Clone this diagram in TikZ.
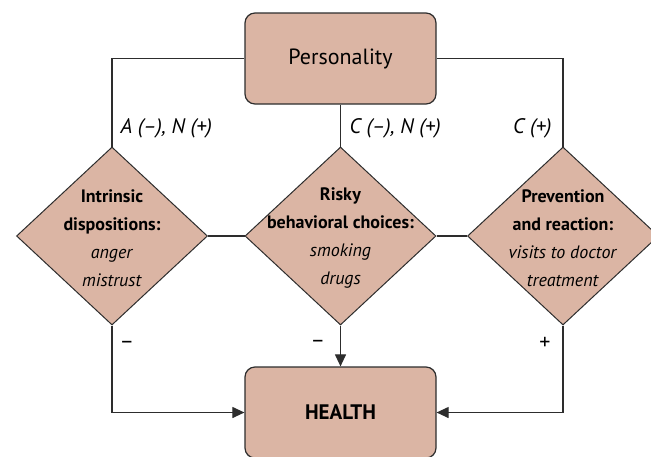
\documentclass[tikz,border=0pt]{standalone}
\usepackage{fontspec}
\setmainfont{PT Sans}
\usetikzlibrary{positioning,arrows.meta,shapes.geometric}
\definecolor{boxfill}{RGB}{219,181,164}
\definecolor{linegray}{RGB}{45,45,45}

\begin{document}
\begin{tikzpicture}[x=1pt,y=-1pt,
  box/.style={draw=linegray,line width=1.2pt,fill=boxfill,rounded corners=10pt,minimum width=191pt,minimum height=91pt,inner sep=0pt},
  dia/.style={draw=linegray,line width=1pt,fill=boxfill,diamond,minimum width=191pt,minimum height=178pt,inner sep=0pt},
  con/.style={draw=linegray,line width=1.1pt},
  arr/.style={con,-{Triangle[length=12pt,width=11pt]}},
  lab/.style={font=\fontsize{21}{24}\selectfont\itshape},
  sgn/.style={font=\fontsize{22}{24}\selectfont},
  txt/.style={align=center,font=\fontsize{18}{28}\selectfont}]
\useasboundingbox (0,0) rectangle (651,456);
\node[box,font=\fontsize{22}{26}\selectfont] (pers) at (340.5,58.5) {Personality};
\node[box,font=\fontsize{21}{25}\selectfont\bfseries] (health) at (340.5,412.5) {HEALTH};
\node[dia] (intr) at (112,236) {};
\node[dia] (risk) at (340.5,236) {};
\node[dia] (prev) at (563,236) {};
\node[txt] (intrt) at ([yshift=-2pt]intr) {\textbf{Intrinsic}\\\textbf{dispositions:}\\\textit{anger}\\\textit{mistrust}};
\node[txt] (riskt) at ([yshift=-2pt]risk) {\textbf{Risky}\\\textbf{behavioral choices:}\\\textit{smoking}\\\textit{drugs}};
\node[txt] (prevt) at ([yshift=-2pt]prev) {\textbf{Prevention}\\\textbf{and reaction:}\\\textit{visits to doctor}\\\textit{treatment}};
\draw[con] (pers.west) -| (intr.north);
\draw[con] (pers.south) -- (risk.north);
\draw[con] (pers.east) -| (prev.north);
\draw[con] (intr.east) -- (risk.west);
\draw[con] (risk.east) -- (prev.west);
\draw[arr] (intr.south) |- (health.west);
\draw[arr] (risk.south) -- (health.north);
\draw[arr] (prev.south) |- (health.east);
\node[lab,anchor=west] (labA) at (117,128) {A (–), N (+)};
\node[lab,anchor=west] (labC) at (346,128) {C (–), N (+)};
\node[lab,anchor=east] (labP) at (555,128) {C (+)};
\node[sgn] (sgnA) at (127,345) {–};
\node[sgn] (sgnC) at (318,344) {–};
\node[sgn] (sgnP) at (545,343) {+};
\end{tikzpicture}
\end{document}
